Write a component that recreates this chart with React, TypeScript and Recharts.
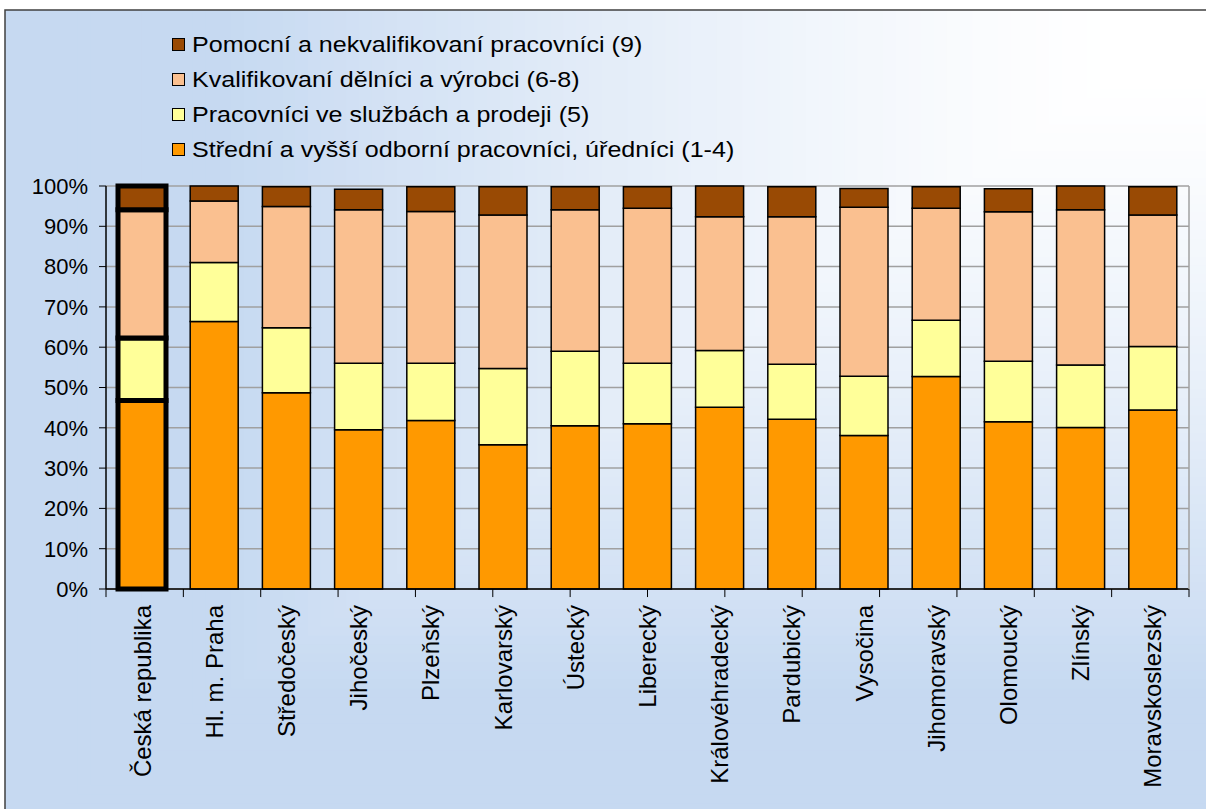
import React from "react";
import {
  BarChart,
  Bar,
  XAxis,
  YAxis,
  CartesianGrid,
  Legend,
  Cell,
  ReferenceLine,
} from "recharts";

// kraje (regions) - first one is the whole republic
const regions = [
  "Česká republika",
  "Hl. m. Praha",
  "Středočeský",
  "Jihočeský",
  "Plzeňský",
  "Karlovarský",
  "Ústecký",
  "Liberecký",
  "Královéhradecký",
  "Pardubický",
  "Vysočina",
  "Jihomoravský",
  "Olomoucký",
  "Zlínský",
  "Moravskoslezský",
];

// shares in %
const odborni = [46.8, 66.4, 48.7, 39.5, 41.8, 35.8, 40.5, 41.0, 45.1, 42.1, 38.1, 52.7, 41.5, 40.1, 44.4];
const sluzby = [15.5, 14.6, 16.1, 16.5, 14.2, 18.9, 18.5, 15.0, 14.1, 13.7, 14.7, 14.0, 15.0, 15.5, 15.8];
const delnici = [31.8, 15.3, 30.1, 38.1, 37.7, 38.1, 35.1, 38.5, 33.2, 36.6, 41.9, 27.8, 37.1, 38.5, 32.6];
const pomocni = [5.9, 3.7, 4.9, 5.1, 6.1, 7.0, 5.7, 5.3, 7.6, 7.4, 4.7, 5.3, 5.7, 5.9, 7.0];

const yTicks = [0, 10, 20, 30, 40, 50, 60, 70, 80, 90, 100];
const boundaryTicks = regions.map((_, i) => i).concat(regions.length);

const series = [
  { key: "odborni", name: "Střední a vyšší odborní pracovníci, úředníci (1-4)", color: "#FF9900" },
  { key: "sluzby", name: "Pracovníci ve službách a prodeji (5)", color: "#FFFF99" },
  { key: "delnici", name: "Kvalifikovaní dělníci a výrobci (6-8)", color: "#FAC090" },
  { key: "pomocni", name: "Pomocní a nekvalifikovaní pracovníci (9)", color: "#994A04" },
];

const data = regions.map((name, i) => ({
  name,
  odborni: odborni[i],
  sluzby: sluzby[i],
  delnici: delnici[i],
  pomocni: pomocni[i],
}));

const W = 1206;
const H = 809;
const FONT = "'Liberation Sans', Arial, sans-serif";

// rectangular "from corner" gradient like the Excel chart area
const Background = () => {
  const blue = [198, 217, 241];
  const cornerX = 1215;
  const top = 10;
  const bands = [];
  const N = 90;
  const dmax = 1150;
  for (let k = 0; k < N; k++) {
    const d = dmax * (1 - k / N);
    const t = Math.min(1, Math.max(0, (d - 100) / 900));
    const w = 1 - Math.pow(t, 1.3);
    const c = blue.map((b) => Math.round(b + (255 - b) * w));
    bands.push(
      <rect
        key={k}
        x={cornerX - d}
        y={top}
        width={d}
        height={d / 1.45}
        fill={`rgb(${c[0]},${c[1]},${c[2]})`}
      />
    );
  }
  return (
    <svg width={W} height={H} style={{ position: "absolute", left: 0, top: 0 }}>
      <defs>
        <clipPath id="frame">
          <rect x={5} y={10} width={1215} height={810} />
        </clipPath>
      </defs>
      <rect x={5} y={10} width={1215} height={810} fill="rgb(198,217,241)" />
      <g clipPath="url(#frame)">{bands}</g>
      <rect x={5} y={10} width={1215} height={810} fill="none" stroke="#404040" strokeWidth={1.5} />
    </svg>
  );
};

const RegionTick = (props: any) => {
  const { x, y, payload } = props;
  const ty = y + 16;
  return (
    <text
      x={x}
      y={ty}
      transform={`rotate(-90, ${x}, ${ty})`}
      textAnchor="end"
      dominantBaseline="central"
      fontSize={24}
      fontFamily={FONT}
      fill="#000"
    >
      {payload.value}
    </text>
  );
};

// legend drawn from the series list, top item = top of the stack
const LegendBox = () => {
  const items = [...series].reverse();
  return (
    <div style={{ fontFamily: FONT, fontSize: 22, color: "#000" }}>
      {items.map((it) => (
        <div key={it.key} style={{ height: 35, display: "flex", alignItems: "center" }}>
          <span
            style={{
              display: "inline-block",
              width: 11,
              height: 11,
              background: it.color,
              border: "1.5px solid #000",
              marginRight: 7,
              flex: "none",
            }}
          />
          <span
            style={{
              display: "inline-block",
              whiteSpace: "nowrap",
              transform: "scaleX(1.14)",
              transformOrigin: "left center",
            }}
          >
            {it.name}
          </span>
        </div>
      ))}
    </div>
  );
};

export default function App() {
  return (
    <div style={{ position: "absolute", left: 0, top: 0, width: W, height: H, overflow: "hidden" }}>
      <Background />
      <div style={{ position: "absolute", left: 0, top: 0 }}>
        <BarChart
          width={W}
          height={H}
          data={data}
          margin={{ top: 186, right: 16, bottom: 20, left: 46 }}
          style={{ fontFamily: FONT }}
        >
          <CartesianGrid vertical={false} stroke="#a0a0a0" strokeWidth={1.5} />
          <XAxis
            dataKey="name"
            interval={0}
            height={200}
            tickSize={0}
            tickMargin={0}
            tickLine={false}
            axisLine={{ stroke: "#000", strokeWidth: 1.5 }}
            tick={<RegionTick />}
          />
          {/* hidden number axis, only gives the scale for the tick marks between categories */}
          <XAxis xAxisId="edges" type="number" domain={[0, regions.length]} hide />
          <YAxis
            domain={[0, 100]}
            ticks={yTicks}
            width={60}
            tickFormatter={(v) => `${v}%`}
            axisLine={{ stroke: "#000", strokeWidth: 1.5 }}
            tickLine={{ stroke: "#000", strokeWidth: 1 }}
            tickSize={7}
            tickMargin={11}
            tick={{ fill: "#000", fontSize: 22, fontFamily: FONT }}
            interval={0}
          />
          <YAxis
            yAxisId="right"
            orientation="right"
            width={1}
            domain={[0, 100]}
            tick={false}
            tickLine={false}
            axisLine={{ stroke: "#a0a0a0", strokeWidth: 1.5 }}
          />
          {boundaryTicks.map((b) => (
            <ReferenceLine
              key={b}
              xAxisId="edges"
              segment={[
                { x: b, y: 0 },
                { x: b, y: -2 },
              ]}
              ifOverflow="visible"
              stroke="#000"
              strokeWidth={1}
            />
          ))}
          <Legend
            layout="vertical"
            align="center"
            verticalAlign="middle"
            wrapperStyle={{ left: 172, top: 27, width: 700 }}
            content={<LegendBox />}
          />
          {series.map((s) => (
            <Bar
              key={s.key}
              dataKey={s.key}
              name={s.name}
              stackId="a"
              fill={s.color}
              stroke="#000"
              strokeWidth={1.5}
              barSize={48}
              isAnimationActive={false}
            >
              {data.map((d, i) => (
                <Cell key={d.name} strokeWidth={i === 0 ? 5 : 1.5} />
              ))}
            </Bar>
          ))}
        </BarChart>
      </div>
    </div>
  );
}
